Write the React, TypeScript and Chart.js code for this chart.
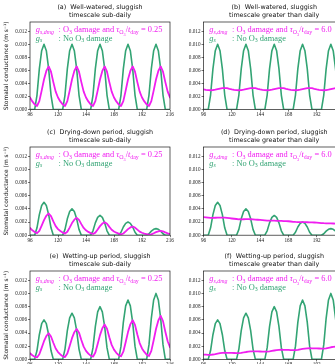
import React, { useEffect, useRef } from "react";
import { Chart, registerables } from "chart.js";

Chart.register(...registerables);

// Time axis (hours), sampled every 2 h
const hours = [
  96, 98, 100, 102, 104, 106, 108, 110, 112, 114, 116, 118,
  120, 122, 124, 126, 128, 130, 132, 134, 136, 138, 140, 142,
  144, 146, 148, 150, 152, 154, 156, 158, 160, 162, 164, 166,
  168, 170, 172, 174, 176, 178, 180, 182, 184, 186, 188, 190,
  192, 194, 196, 198, 200, 202, 204, 206, 208, 210, 212, 214,
  216,
];
const xTicks = [96, 120, 144, 168, 192, 216];
const yTicks = [0, 0.002, 0.004, 0.006, 0.008, 0.01, 0.012];
const Y_MAX = 0.0134;

// g_s without ozone damage (m s^-1)
const gsWellWatered = [
  0, 0, 0, 0.00223, 0.00623, 0.00901, 0.01, 0.00901, 0.00623, 0.00223, 0, 0,
  0, 0, 0, 0.00223, 0.00623, 0.00901, 0.01, 0.00901, 0.00623, 0.00223, 0, 0,
  0, 0, 0, 0.00223, 0.00623, 0.00901, 0.01, 0.00901, 0.00623, 0.00223, 0, 0,
  0, 0, 0, 0.00223, 0.00623, 0.00901, 0.01, 0.00901, 0.00623, 0.00223, 0, 0,
  0, 0, 0, 0.00223, 0.00623, 0.00901, 0.01, 0.00901, 0.00623, 0.00223, 0, 0,
  0,
];
const gsDryingDown = [
  0, 0, 0, 0.00112, 0.00312, 0.00451, 0.005, 0.00451, 0.00312, 0.00112, 0, 0,
  0, 0, 0, 0.00089, 0.00249, 0.0036, 0.004, 0.0036, 0.00249, 0.00089, 0, 0,
  0, 0, 0, 0.00067, 0.00187, 0.0027, 0.003, 0.0027, 0.00187, 0.00067, 0, 0,
  0, 0, 0, 0.00045, 0.00125, 0.0018, 0.002, 0.0018, 0.00125, 0.00045, 0, 0,
  0, 0, 0, 0.00022, 0.00062, 0.0009, 0.001, 0.0009, 0.00062, 0.00022, 0, 0,
  0,
];
const gsWettingUp = [
  0, 0, 0, 0.00134, 0.00374, 0.00541, 0.006, 0.00541, 0.00374, 0.00134, 0, 0,
  0, 0, 0, 0.00156, 0.00436, 0.00631, 0.007, 0.00631, 0.00436, 0.00156, 0, 0,
  0, 0, 0, 0.00178, 0.00498, 0.00721, 0.008, 0.00721, 0.00498, 0.00178, 0, 0,
  0, 0, 0, 0.00201, 0.00561, 0.00811, 0.009, 0.00811, 0.00561, 0.00201, 0, 0,
  0, 0, 0, 0.00223, 0.00623, 0.00901, 0.01, 0.00901, 0.00623, 0.00223, 0, 0,
  0,
];

// g_s,dmg with ozone damage (m s^-1)
const gDmgWellWateredFast = [
  0.00185, 0.00125, 0.0008, 0.00055, 0.0013, 0.0029, 0.0046, 0.0059, 0.0066, 0.0058, 0.0042, 0.00275,
  0.00185, 0.00125, 0.0008, 0.00055, 0.0013, 0.0029, 0.0046, 0.0059, 0.0066, 0.0058, 0.0042, 0.00275,
  0.00185, 0.00125, 0.0008, 0.00055, 0.0013, 0.0029, 0.0046, 0.0059, 0.0066, 0.0058, 0.0042, 0.00275,
  0.00185, 0.00125, 0.0008, 0.00055, 0.0013, 0.0029, 0.0046, 0.0059, 0.0066, 0.0058, 0.0042, 0.00275,
  0.00185, 0.00125, 0.0008, 0.00055, 0.0013, 0.0029, 0.0046, 0.0059, 0.0066, 0.0058, 0.0042, 0.00275,
  0.00185,
];
const gDmgWellWateredSlow = [
  0.0031, 0.00303, 0.00298, 0.00296, 0.00299, 0.00306, 0.00314, 0.00322, 0.00328, 0.0033, 0.00327, 0.00318,
  0.0031, 0.00303, 0.00298, 0.00296, 0.00299, 0.00306, 0.00314, 0.00322, 0.00328, 0.0033, 0.00327, 0.00318,
  0.0031, 0.00303, 0.00298, 0.00296, 0.00299, 0.00306, 0.00314, 0.00322, 0.00328, 0.0033, 0.00327, 0.00318,
  0.0031, 0.00303, 0.00298, 0.00296, 0.00299, 0.00306, 0.00314, 0.00322, 0.00328, 0.0033, 0.00327, 0.00318,
  0.0031, 0.00303, 0.00298, 0.00296, 0.00299, 0.00306, 0.00314, 0.00322, 0.00328, 0.0033, 0.00327, 0.00318,
  0.0031,
];
const gDmgDryingFast = [
  0.00111, 0.00075, 0.00048, 0.0003, 0.00065, 0.00145, 0.0023, 0.00295, 0.0033, 0.0029, 0.0021, 0.00138,
  0.00093, 0.00063, 0.0004, 0.00025, 0.00052, 0.00116, 0.00184, 0.00236, 0.00264, 0.00232, 0.00168, 0.0011,
  0.00074, 0.0005, 0.00032, 0.00019, 0.00039, 0.00087, 0.00138, 0.00177, 0.00198, 0.00174, 0.00126, 0.00083,
  0.00056, 0.00038, 0.00024, 0.00014, 0.00026, 0.00058, 0.00092, 0.00118, 0.00132, 0.00116, 0.00084, 0.00055,
  0.00037, 0.00025, 0.00016, 0.00008, 0.00013, 0.00029, 0.00046, 0.00059, 0.00066, 0.00058, 0.00042, 0.00028,
  0.00019,
];
const gDmgDryingSlow = [
  0.00275, 0.00271, 0.00267, 0.00263, 0.00263, 0.00265, 0.00267, 0.00268, 0.00268, 0.00266, 0.00262, 0.00258,
  0.00254, 0.0025, 0.00246, 0.00242, 0.00241, 0.00242, 0.00243, 0.00243, 0.00242, 0.0024, 0.00237, 0.00235,
  0.00233, 0.00229, 0.00225, 0.00221, 0.0022, 0.0022, 0.0022, 0.00219, 0.00218, 0.00217, 0.00215, 0.00214,
  0.00212, 0.00208, 0.00204, 0.00201, 0.002, 0.00199, 0.00199, 0.00198, 0.00197, 0.00196, 0.00194, 0.00193,
  0.00191, 0.00188, 0.00185, 0.00182, 0.00181, 0.0018, 0.00179, 0.00178, 0.00177, 0.00175, 0.00173, 0.00172,
  0.0017,
];
const gDmgWettingFast = [
  0.00093, 0.00063, 0.0004, 0.0003, 0.00078, 0.00174, 0.00276, 0.00354, 0.00396, 0.00348, 0.00252, 0.00165,
  0.00111, 0.00075, 0.00048, 0.00036, 0.00091, 0.00203, 0.00322, 0.00413, 0.00462, 0.00406, 0.00294, 0.00193,
  0.0013, 0.00088, 0.00056, 0.00041, 0.00104, 0.00232, 0.00368, 0.00472, 0.00528, 0.00464, 0.00336, 0.0022,
  0.00148, 0.001, 0.00064, 0.00047, 0.00117, 0.00261, 0.00414, 0.00531, 0.00594, 0.00522, 0.00378, 0.00248,
  0.00167, 0.00113, 0.00072, 0.00052, 0.0013, 0.0029, 0.0046, 0.0059, 0.0066, 0.0058, 0.0042, 0.00275,
  0.00185,
];
const gDmgWettingSlow = [
  0.00072, 0.00071, 0.0007, 0.0007, 0.00074, 0.00081, 0.00089, 0.00096, 0.001, 0.00101, 0.001, 0.00099,
  0.00098, 0.00097, 0.00096, 0.00095, 0.00099, 0.00105, 0.00112, 0.00118, 0.00122, 0.00123, 0.00122, 0.00121,
  0.0012, 0.00119, 0.00118, 0.00117, 0.00121, 0.00128, 0.00135, 0.00141, 0.00145, 0.00146, 0.00145, 0.00144,
  0.00143, 0.00142, 0.00141, 0.0014, 0.00144, 0.00151, 0.00158, 0.00164, 0.00168, 0.00169, 0.00168, 0.00167,
  0.00166, 0.00165, 0.00164, 0.00163, 0.00168, 0.00176, 0.00184, 0.0019, 0.00194, 0.00195, 0.00194, 0.00193,
  0.00192,
];

const tauRatioFast = "0.25";
const tauRatioSlow = "6.0";

const panelTitles = [
  ["(a)  Well-watered, sluggish", "timescale sub-daily"],
  ["(b)  Well-watered, sluggish", "timescale greater than daily"],
  ["(c)  Drying-down period, sluggish", "timescale sub-daily"],
  ["(d)  Drying-down period, sluggish", "timescale greater than daily"],
  ["(e)  Wetting-up period, sluggish", "timescale sub-daily"],
  ["(f)  Wetting-up period, sluggish", "timescale greater than daily"],
];
const yAxisTitle = "Stomatal conductance (m s\u207B\u00B9)";

const MAGENTA = "#f01ef0";
const GREEN = "#33a474";
const INK = "#1a1a1a";
const SERIF = "'Liberation Serif', 'DejaVu Serif', serif";
const SANS = "'DejaVu Sans', sans-serif";

const CANVAS_W = 350;
const CANVAS_H = 364;
const Y_AXIS_W = 30;
const X_AXIS_H = 10;

const COLS = [
  { left: 30, right: 170 },
  { left: 203.5, right: 345 },
];
const ROWS = [
  { top: 22, bottom: 109.6 },
  { top: 147, bottom: 235.2 },
  { top: 271, bottom: 359.4 },
];

const panels = [
  { green: gsWellWatered, pink: gDmgWellWateredFast, tau: tauRatioFast },
  { green: gsWellWatered, pink: gDmgWellWateredSlow, tau: tauRatioSlow },
  { green: gsDryingDown, pink: gDmgDryingFast, tau: tauRatioFast },
  { green: gsDryingDown, pink: gDmgDryingSlow, tau: tauRatioSlow },
  { green: gsWettingUp, pink: gDmgWettingFast, tau: tauRatioFast },
  { green: gsWettingUp, pink: gDmgWettingSlow, tau: tauRatioSlow },
];

type Seg = [string, string];

// Styles: n = upright, i = italic, s = subscript, si = italic subscript, ss = second-level subscript
function drawRich(ctx: CanvasRenderingContext2D, x: number, y: number, segs: Seg[], size: number) {
  let cx = x;
  for (const [t, st] of segs) {
    const italic = st.includes("i");
    let fs = size;
    let dy = 0;
    if (st === "ss") {
      fs = size * 0.5;
      dy = size * 0.4;
    } else if (st.includes("s")) {
      fs = size * 0.7;
      dy = size * 0.2;
    }
    ctx.font = `${italic ? "italic " : ""}${fs}px ${SERIF}`;
    ctx.fillText(t, cx, y + dy);
    cx += ctx.measureText(t).width;
  }
}

function Panel({ index }: { index: number }) {
  const ref = useRef<HTMLCanvasElement | null>(null);

  useEffect(() => {
    const canvas = ref.current;
    if (!canvas) return;
    const p = panels[index];
    const col = COLS[index % 2];
    const row = ROWS[Math.floor(index / 2)];
    const isLeft = index % 2 === 0;
    const [title1, title2] = panelTitles[index];

    const decor = {
      id: "decor",
      afterDraw(chart: any) {
        const ctx: CanvasRenderingContext2D = chart.ctx;
        const a = chart.chartArea;
        ctx.save();
        // frame
        ctx.strokeStyle = INK;
        ctx.lineWidth = 0.7;
        ctx.strokeRect(a.left, a.top, a.right - a.left, a.bottom - a.top);
        // two-line panel title
        ctx.fillStyle = "#111";
        ctx.textAlign = "center";
        ctx.textBaseline = "middle";
        ctx.font = `6.4px ${SANS}`;
        const cx = (a.left + a.right) / 2;
        ctx.fillText(title1, cx, a.top - 14.5);
        ctx.fillText(title2, cx, a.top - 7);
        // in-plot key
        ctx.textAlign = "left";
        ctx.textBaseline = "alphabetic";
        const size = 8.4;
        const kx = a.left + 5.8;
        const tx = a.left + 28.5;
        const y1 = a.top + 10.2;
        const y2 = a.top + 18.7;
        ctx.fillStyle = MAGENTA;
        drawRich(ctx, kx, y1, [["g", "i"], ["s,dmg", "si"]], size);
        drawRich(
          ctx,
          tx,
          y1,
          [
            [": O", "n"],
            ["3", "s"],
            [" damage and ", "n"],
            ["\u03C4", "i"],
            ["O", "s"],
            ["3", "ss"],
            ["/", "n"],
            ["t", "i"],
            ["day", "s"],
            [` = ${p.tau}`, "n"],
          ],
          size
        );
        ctx.fillStyle = GREEN;
        drawRich(ctx, kx, y2, [["g", "i"], ["s", "si"]], size);
        drawRich(
          ctx,
          tx,
          y2,
          [
            [": No O", "n"],
            ["3", "s"],
            [" damage", "n"],
          ],
          size
        );
        ctx.restore();
      },
    };

    const chart = new Chart(canvas, {
      type: "line",
      data: {
        datasets: [
          {
            data: hours.map((h, i) => ({ x: h, y: p.pink[i] })),
            borderColor: MAGENTA,
            borderWidth: 1.8,
            pointRadius: 0,
            tension: 0,
            borderJoinStyle: "round",
            borderCapStyle: "round",
            order: 0,
          },
          {
            data: hours.map((h, i) => ({ x: h, y: p.green[i] })),
            borderColor: GREEN,
            borderWidth: 1.6,
            pointRadius: 0,
            tension: 0,
            borderJoinStyle: "round",
            borderCapStyle: "round",
            order: 1,
          },
        ],
      },
      options: {
        animation: false,
        responsive: false,
        devicePixelRatio: 1,
        events: [],
        layout: {
          autoPadding: false,
          padding: {
            left: col.left - Y_AXIS_W,
            right: CANVAS_W - col.right,
            top: row.top,
            bottom: CANVAS_H - row.bottom - X_AXIS_H,
          },
        },
        plugins: {
          legend: { display: false },
          tooltip: { enabled: false },
          title: { display: false },
        },
        scales: {
          x: {
            type: "linear",
            min: 96,
            max: 216,
            afterBuildTicks: (s: any) => {
              s.ticks = xTicks.map((v) => ({ value: v }));
            },
            afterFit: (s: any) => {
              s.height = X_AXIS_H;
            },
            ticks: {
              font: { family: SERIF, size: 5.2 },
              color: INK,
              padding: 0,
              maxRotation: 0,
              autoSkip: false,
              callback: (v: any) => String(v),
            },
            grid: { drawOnChartArea: false, tickLength: 2, color: INK, lineWidth: 0.6 },
            border: { display: false },
          },
          y: {
            type: "linear",
            min: 0,
            max: Y_MAX,
            afterBuildTicks: (s: any) => {
              s.ticks = yTicks.map((v) => ({ value: v }));
            },
            afterFit: (s: any) => {
              s.width = Y_AXIS_W;
            },
            ticks: {
              font: { family: SERIF, size: 5.2 },
              color: INK,
              padding: 1,
              autoSkip: false,
              callback: (v: any) => Number(v).toFixed(3),
            },
            grid: { drawOnChartArea: false, tickLength: 2, color: INK, lineWidth: 0.6 },
            border: { display: false },
            title: isLeft
              ? {
                  display: true,
                  text: yAxisTitle,
                  font: { family: SANS, size: 5.9 },
                  color: "#111",
                  padding: { top: 3, bottom: 0 },
                }
              : { display: false },
          },
        },
      },
      plugins: [decor],
    } as any);

    return () => chart.destroy();
  }, [index]);

  return (
    <canvas
      ref={ref}
      width={CANVAS_W}
      height={CANVAS_H}
      style={{ position: "absolute", left: 0, top: 0, width: CANVAS_W, height: CANVAS_H }}
    />
  );
}

export default function App() {
  return (
    <div
      style={{
        position: "fixed",
        left: 0,
        top: 0,
        width: 335,
        height: 364,
        overflow: "hidden",
        background: "#fff",
      }}
    >
      {panels.map((_, i) => (
        <Panel key={i} index={i} />
      ))}
    </div>
  );
}
